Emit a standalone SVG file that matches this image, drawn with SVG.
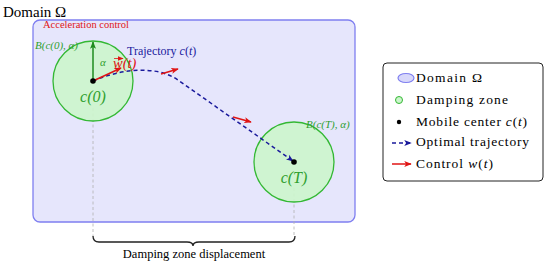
<svg xmlns="http://www.w3.org/2000/svg" width="550" height="267" viewBox="0 0 550 267" font-family="'Liberation Serif', 'Times New Roman', serif">
<style>
text{font-family:"Liberation Serif","Times New Roman",serif}
.it{font-style:italic}
.zone{fill:#ccf5cc;stroke:#33b833;stroke-width:1.3;fill-opacity:0.9}
.guide{stroke:#b0b0b0;stroke-width:0.8;stroke-dasharray:3,2.5;fill:none}
.traj{stroke:#1a1a9c;stroke-width:1.5;stroke-dasharray:4,3;fill:none}
.ctrl{stroke:#e01515;stroke-width:1.5;fill:none}
.green{fill:#2fa02f}
.red{fill:#e01515}
.blue{fill:#1a1a9c}
.leg{font-size:13.5px}
</style>
<defs>
<marker id="ar" viewBox="0 0 10 10" refX="9" refY="5" markerWidth="5" markerHeight="5" orient="auto"><path d="M0,1 L10,5 L0,9 L2.5,5 z" fill="#e01515"/></marker>
<marker id="ab" viewBox="0 0 10 10" refX="9" refY="5" markerWidth="5" markerHeight="5" orient="auto"><path d="M0,1 L10,5 L0,9 L2.5,5 z" fill="#1a1a9c"/></marker>
<marker id="ag" viewBox="0 0 10 10" refX="9" refY="5" markerWidth="5" markerHeight="5" orient="auto"><path d="M0,1 L10,5 L0,9 L2.5,5 z" fill="#1e8c1e"/></marker>
<marker id="av" viewBox="0 0 10 10" refX="9" refY="5" markerWidth="6" markerHeight="6" markerUnits="userSpaceOnUse" orient="auto"><path d="M0,1 L10,5 L0,9 z" fill="#e01515"/></marker>
</defs>

<g id="domain">
<rect x="33" y="20" width="322" height="202" rx="7" fill="#e6e6fc" stroke="#7f7ff0" stroke-width="1.3"/>
<text x="3" y="17" font-size="15">Domain Ω</text>
<text class="red" x="43" y="28" font-size="10.5">Acceleration control</text>
</g>

<g id="guides">
<line class="guide" x1="93" y1="108" x2="93" y2="236"/>
<line class="guide" x1="294" y1="188" x2="294" y2="236"/>
</g>

<g id="zone0">
<circle class="zone" cx="93" cy="81" r="40"/>
<text class="green it" x="35" y="49" font-size="11">B(c(0), α)</text>
<text class="green it" x="93" y="102" font-size="16" text-anchor="middle">c(0)</text>
</g>

<g id="zoneT">
<circle class="zone" cx="294" cy="162" r="40"/>
<text class="green it" x="306" y="128" font-size="11">B(c(T), α)</text>
<text class="green it" x="294" y="183" font-size="16" text-anchor="middle">c(T)</text>
</g>

<g id="connectors">
<path class="traj" d="M93,81 C118,70 155,64 178,80 L293,161" marker-end="url(#ab)"/>
<line x1="93" y1="81" x2="93" y2="42" stroke="#1e8c1e" stroke-width="1.5" marker-end="url(#ag)"/>
<line class="ctrl" x1="93" y1="81" x2="121" y2="68" marker-end="url(#ar)"/>
<line class="ctrl" x1="161" y1="74" x2="178" y2="69" marker-end="url(#ar)"/>
<line class="ctrl" x1="233" y1="117" x2="251" y2="122" marker-end="url(#ar)"/>
</g>

<g id="labels">
<text class="green it" x="100" y="66" font-size="11">α</text>
<text class="red it" x="113" y="68" font-size="14.5">w(t)</text>
<line x1="114" y1="58.5" x2="123" y2="58.5" stroke="#e01515" stroke-width="0.8" marker-end="url(#av)"/>
<text class="blue" x="127" y="55" font-size="12">Trajectory <tspan class="it">c</tspan>(<tspan class="it">t</tspan>)</text>
</g>

<g id="center0"><circle cx="93" cy="81" r="2.8" fill="#000"/></g>
<g id="centerT"><circle cx="294" cy="162" r="2.8" fill="#000"/></g>

<g id="brace">
<path d="M93,236 Q93,242 99,242 L187,242 Q193,242 193,246 Q193,242 199,242 L289,242 Q295,242 295,236" fill="none" stroke="#222" stroke-width="1.3"/>
<text x="194" y="258" font-size="12.5" text-anchor="middle">Damping zone displacement</text>
</g>

<g id="legend">
<rect x="383" y="63" width="160" height="118" rx="4" fill="#fff" stroke="#222" stroke-width="1"/>
<ellipse cx="406" cy="78" rx="8" ry="4.5" fill="#d8d8fa" stroke="#7f7ff0" stroke-width="1.2"/>
<text class="leg" x="416" y="82" textLength="66" lengthAdjust="spacing">Domain Ω</text>
<circle cx="399" cy="100" r="3.5" fill="#ccf5cc" stroke="#33b833" stroke-width="1"/>
<text class="leg" x="416" y="104" textLength="92" lengthAdjust="spacing">Damping zone</text>
<circle cx="399" cy="122" r="2.2" fill="#000"/>
<text class="leg" x="416" y="126" textLength="111" lengthAdjust="spacing">Mobile center <tspan class="it">c</tspan>(<tspan class="it">t</tspan>)</text>
<line x1="392" y1="143" x2="411" y2="143" stroke="#1a1a9c" stroke-width="1.5" stroke-dasharray="4,3" marker-end="url(#ab)"/>
<text class="leg" x="416" y="146" textLength="113" lengthAdjust="spacing">Optimal trajectory</text>
<line x1="392" y1="164" x2="411" y2="164" stroke="#e01515" stroke-width="1.5" marker-end="url(#ar)"/>
<text class="leg" x="416" y="168" textLength="77" lengthAdjust="spacing">Control <tspan class="it">w</tspan>(<tspan class="it">t</tspan>)</text>
</g>
</svg>
